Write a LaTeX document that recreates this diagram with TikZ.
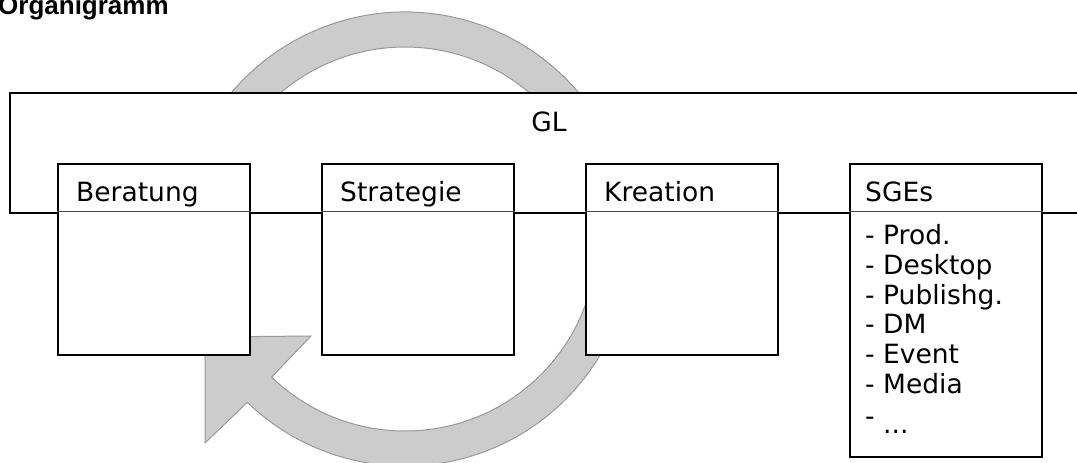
\documentclass[tikz,border=0pt]{standalone}
\usepackage{fontspec}
\usetikzlibrary{calc}
\setmainfont{DejaVu Sans}
\newfontfamily\titlefont{Liberation Sans}
\begin{document}
\begin{tikzpicture}[x=1pt,y=-1pt,
  unitbox/.style={draw=black,line width=2.4pt,fill=white},
  glbox/.style={draw=black,line width=2.4pt,fill=white},
  ring/.style={draw=black!40,line width=1pt,fill=black!20},
  divider/.style={draw=black!70,line width=1.4pt},
  lbl/.style={inner sep=0pt,anchor=base west,font=\fontsize{26.5}{31}\selectfont}]
\useasboundingbox (0,0) rectangle (1077,463);
\clip (0,0) rectangle (1077,463);
% circular arrow
\coordinate (c) at (405,239);
\coordinate (ob) at (205,443);
\coordinate (tip) at (205,337);
\coordinate (ib) at (311,336);
\path[ring] ($(c)+(200:227)$) arc[start angle=200,end angle=494,radius=227]
  -- (ob) -- (tip) -- (ib) -- ($(c)+(134:192)$)
  arc[start angle=494,end angle=200,radius=192] -- cycle;
% GL frame
\node[glbox,minimum width=1090pt,minimum height=120pt,anchor=north west,inner sep=0pt] (gl) at (9,92) {};
\node[lbl,anchor=base] (gltext) at (549,131) {GL};
% unit boxes
\node[unitbox,anchor=north west,minimum width=192pt,minimum height=191pt,inner sep=0pt] (b1) at (57,163) {};
\node[unitbox,anchor=north west,minimum width=192pt,minimum height=191pt,inner sep=0pt] (b2) at (321,163) {};
\node[unitbox,anchor=north west,minimum width=192pt,minimum height=191pt,inner sep=0pt] (b3) at (585,163) {};
\node[unitbox,anchor=north west,minimum width=192pt,minimum height=293pt,inner sep=0pt] (b4) at (849,163) {};
\foreach \b in {b1,b2,b3,b4}{
  \draw[divider] (\b.west |- 0,211.5) -- (\b.east |- 0,211.5);
}
\node[lbl] (t1) at (76,201) {Beratung};
\node[lbl] (t2) at (340,201) {Strategie};
\node[lbl] (t3) at (604,201) {Kreation};
\node[lbl] (t4) at (865,201) {SGEs};
\node[lbl] (li1) at (865,244.5) {- Prod.};
\node[lbl] (li2) at (865,274.3) {- Desktop};
\node[lbl] (li3) at (865,304.1) {- Publishg.};
\node[lbl] (li4) at (865,333.9) {- DM};
\node[lbl] (li5) at (865,363.7) {- Event};
\node[lbl] (li6) at (865,393.5) {- Media};
\node[lbl] (li7) at (865,425.5) {- \raisebox{-8pt}{...}};
% title
\node[inner sep=0pt,anchor=base west,font=\titlefont\bfseries\fontsize{26}{30}\selectfont] (title) at (-2,14) {Organigramm};
\end{tikzpicture}
\end{document}
